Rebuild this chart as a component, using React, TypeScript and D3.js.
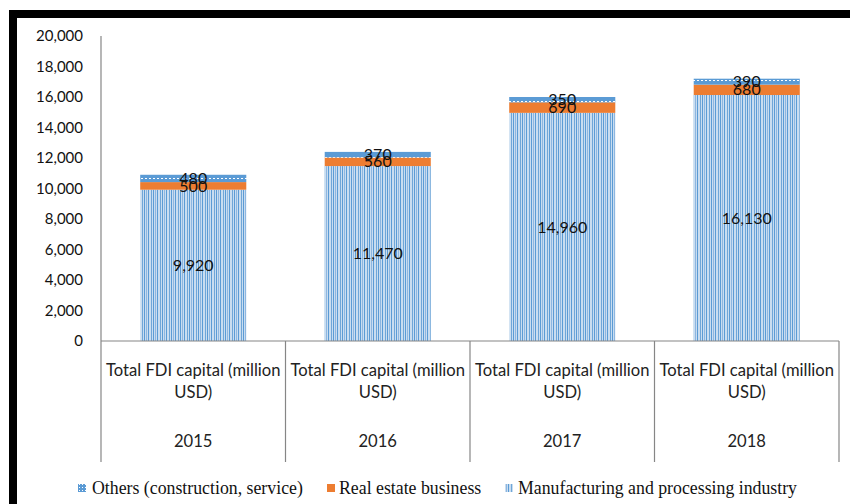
import React from "react";
import * as d3 from "d3";

const years = ["2015", "2016", "2017", "2018"];
const categoryLabel = ["Total FDI capital (million", "USD)"];
const manufacturing = [9920, 11470, 14960, 16130];
const realEstate = [500, 560, 690, 680];
const others = [480, 370, 350, 390];
const seriesNames = ["Others (construction, service)", "Real estate business", "Manufacturing and processing industry"];
const yTicks = [0, 2000, 4000, 6000, 8000, 10000, 12000, 14000, 16000, 18000, 20000];

const W = 850, H = 504;
const plotLeft = 101, plotRight = 839, plotTop = 36, plotBottom = 341;

export default function App() {
  const x = d3.scaleBand<string>().domain(years).range([plotLeft, plotRight]).paddingInner(0).paddingOuter(0);
  const y = d3.scaleLinear().domain([0, 20000]).range([plotBottom, plotTop]);
  const barW = x.bandwidth() * 0.575;
  const fmt = d3.format(",");
  const rows = years.map((yr, i) => ({ yr, m: manufacturing[i], r: realEstate[i], o: others[i] }));
  const stack = d3.stack<any>().keys(["m", "r", "o"])(rows as any);
  const fills = { m: "url(#manu)", r: "#ED7D31", o: "url(#oth)" } as any;
  const labelFont = "Lato, 'Open Sans', sans-serif";

  return (
    <svg width={W} height={H} style={{ position: "absolute", left: 0, top: 0, background: "#fff" }}>
      <defs>
        <pattern id="manu" patternUnits="userSpaceOnUse" width="9" height="4">
          <rect width="9" height="4" fill="#C9DDF0" />
          <rect x="0" width="1" height="4" fill="#5B9BD5" />
          <rect x="2" width="1" height="4" fill="#8DB6E0" />
          <rect x="4" width="1" height="4" fill="#5B9BD5" />
          <rect x="7" width="1" height="4" fill="#6FA6D8" />
        </pattern>
        <pattern id="oth" patternUnits="userSpaceOnUse" width="4" height="7" y={0}>
          <rect width="4" height="7" fill="#5B9BD5" />
          <rect x="1" y="3" width="2" height="1" fill="#FFFFFF" />
        </pattern>
        <pattern id="othLeg" patternUnits="userSpaceOnUse" width="3" height="3">
          <rect width="3" height="3" fill="#5B9BD5" />
          <rect x="1" y="1" width="1" height="1" fill="#FFFFFF" />
        </pattern>
      </defs>
      {/* frame */}
      <rect x={9} y={10} width={841} height={8} fill="#000" />
      <rect x={9} y={10} width={8} height={494} fill="#000" />

      {/* y axis */}
      <line x1={plotLeft} x2={plotLeft} y1={plotTop} y2={plotBottom} stroke="#868686" strokeWidth={1.2} />
      {yTicks.map((t) => (
        <text key={t} x={83} y={y(t)} dy="0.35em" textAnchor="end" fontFamily={labelFont} fontSize={15} fill="#111">
          {fmt(t)}
        </text>
      ))}

      {/* bars */}
      {stack.map((s) => (
        <g key={s.key}>
          {s.map((d, i) => {
            const yr = years[i];
            const x0 = (x(yr) as number) + (x.bandwidth() - barW) / 2;
            return (
              <rect key={yr} x={x0} y={y(d[1])} width={barW} height={y(d[0]) - y(d[1])} fill={fills[s.key]} />
            );
          })}
        </g>
      ))}
      {stack.map((s) => (
        <g key={"l" + s.key}>
          {s.map((d, i) => {
            const yr = years[i];
            const cx = (x(yr) as number) + x.bandwidth() / 2;
            const cy = (y(d[0]) + y(d[1])) / 2;
            return (
              <text key={yr} x={cx} y={cy} dy="0.35em" textAnchor="middle" fontFamily={labelFont} fontSize={16} fill="#111">
                {fmt(d[1] - d[0])}
              </text>
            );
          })}
        </g>
      ))}

      {/* x axis */}
      <line x1={plotLeft} x2={plotRight} y1={plotBottom} y2={plotBottom} stroke="#868686" strokeWidth={1.2} />
      {[...years.map((yr) => x(yr) as number), plotRight].map((px, i) => (
        <line key={i} x1={px} x2={px} y1={plotBottom} y2={462} stroke="#868686" strokeWidth={1.2} />
      ))}
      {years.map((yr) => {
        const cx = (x(yr) as number) + x.bandwidth() / 2;
        return (
          <g key={"c" + yr} fontFamily={labelFont} fontSize={16.6} fill="#222" textAnchor="middle">
            <text x={cx} y={370} dy="0.35em">{categoryLabel[0]}</text>
            <text x={cx} y={392} dy="0.35em">{categoryLabel[1]}</text>
            <text x={cx} y={441} dy="0.35em">{yr}</text>
          </g>
        );
      })}

      {/* legend */}
      <g fontFamily="'Liberation Serif', 'DejaVu Serif', serif" fontSize={17.8} fill="#111">
        <rect x={78} y={484} width={8} height={8} fill="url(#othLeg)" />
        <text x={92} y={488} dy="0.35em">{seriesNames[0]}</text>
        <rect x={327} y={484} width={8} height={8} fill="#ED7D31" />
        <text x={339} y={488} dy="0.35em">{seriesNames[1]}</text>
        <rect x={505} y={484} width={8} height={8} fill="url(#manu)" />
        <text x={518} y={488} dy="0.35em">{seriesNames[2]}</text>
      </g>
    </svg>
  );
}
